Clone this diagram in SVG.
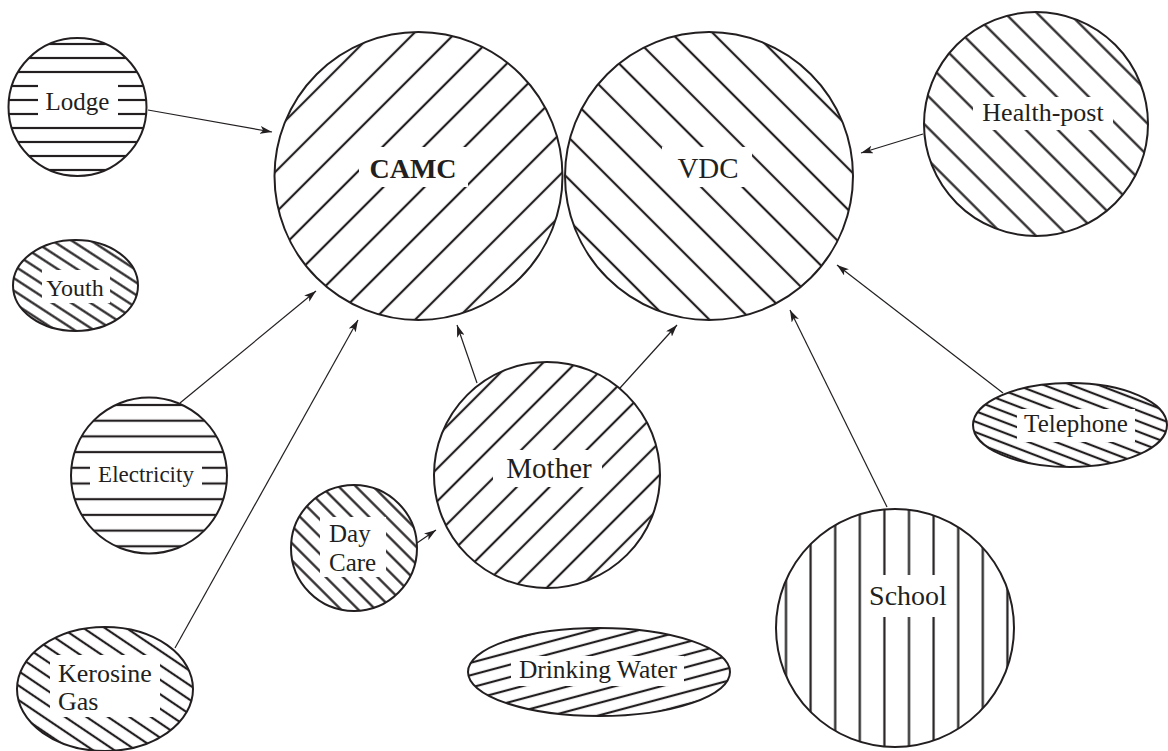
<svg xmlns="http://www.w3.org/2000/svg" width="1168" height="751" viewBox="0 0 1168 751">
<style>
.o{stroke:#231f20;stroke-width:2;}
.g{fill:#fff;}
.t{font-family:"Liberation Serif","Times New Roman",serif;fill:#231f20;}
.c{stroke:#231f20;stroke-width:1.2;fill:none;marker-end:url(#ah);}
</style>
<defs>
<marker id="ah" viewBox="0 0 12 8" refX="12" refY="4" markerWidth="12" markerHeight="8" markerUnits="userSpaceOnUse" orient="auto">
<path d="M0,0 L12,4 L0,8 L3,4 z" fill="#231f20"/>
</marker>
<pattern id="pLodge" patternUnits="userSpaceOnUse" x="0" y="9" width="20" height="14"><line x1="0" y1="7" x2="20" y2="7" stroke="#231f20" stroke-width="2.2"/></pattern>
<pattern id="pElec" patternUnits="userSpaceOnUse" x="0" y="397.15" width="20" height="15.7"><line x1="0" y1="7.85" x2="20" y2="7.85" stroke="#231f20" stroke-width="2.2"/></pattern>
<pattern id="pSchool" patternUnits="userSpaceOnUse" x="773.7" y="0" width="24.6" height="20"><line x1="12.3" y1="0" x2="12.3" y2="20" stroke="#231f20" stroke-width="2.2"/></pattern>
<pattern id="pCAMC" patternUnits="userSpaceOnUse" x="0" y="11.06" width="20" height="29.06" patternTransform="rotate(-45)"><line x1="0" y1="14.53" x2="20" y2="14.53" stroke="#231f20" stroke-width="2.2"/></pattern>
<pattern id="pVDC" patternUnits="userSpaceOnUse" x="0" y="2.75" width="20" height="29.3" patternTransform="rotate(45)"><line x1="0" y1="14.65" x2="20" y2="14.65" stroke="#231f20" stroke-width="2.2"/></pattern>
<pattern id="pHealth" patternUnits="userSpaceOnUse" x="0" y="10.5" width="20" height="22.6" patternTransform="rotate(45)"><line x1="0" y1="11.3" x2="20" y2="11.3" stroke="#231f20" stroke-width="2.2"/></pattern>
<pattern id="pMother" patternUnits="userSpaceOnUse" x="0" y="5.25" width="20" height="23.1" patternTransform="rotate(-45)"><line x1="0" y1="11.55" x2="20" y2="11.55" stroke="#231f20" stroke-width="2.2"/></pattern>
<pattern id="pDay" patternUnits="userSpaceOnUse" x="0" y="0.8" width="20" height="12.2" patternTransform="rotate(45)"><line x1="0" y1="6.1" x2="20" y2="6.1" stroke="#231f20" stroke-width="2.2"/></pattern>
<pattern id="pYouth" patternUnits="userSpaceOnUse" x="0" y="0" width="20" height="10.5" patternTransform="rotate(33)"><line x1="0" y1="5.25" x2="20" y2="5.25" stroke="#231f20" stroke-width="2.2"/></pattern>
<pattern id="pKero" patternUnits="userSpaceOnUse" x="0" y="0" width="20" height="12" patternTransform="rotate(34)"><line x1="0" y1="6" x2="20" y2="6" stroke="#231f20" stroke-width="2.2"/></pattern>
<pattern id="pTel" patternUnits="userSpaceOnUse" x="0" y="0" width="20" height="9.8" patternTransform="rotate(21)"><line x1="0" y1="4.9" x2="20" y2="4.9" stroke="#231f20" stroke-width="2.2"/></pattern>
<pattern id="pWater" patternUnits="userSpaceOnUse" x="0" y="0" width="20" height="12" patternTransform="rotate(-15)"><line x1="0" y1="6" x2="20" y2="6" stroke="#231f20" stroke-width="2.2"/></pattern>
</defs>
<rect width="1168" height="751" fill="#fff"/>

<g id="lodge">
<circle class="o" cx="77.5" cy="107" r="69" fill="url(#pLodge)"/>
<rect class="g" x="38" y="79" width="80" height="42"/>
<text class="t" x="77.5" y="110" font-size="25" text-anchor="middle">Lodge</text>
</g>

<g id="camc">
<circle class="o" cx="418.5" cy="176" r="144" fill="url(#pCAMC)"/>
<rect class="g" x="359" y="147" width="109" height="40"/>
<text class="t" x="413" y="178" font-size="28" font-weight="bold" text-anchor="middle">CAMC</text>
</g>

<g id="vdc">
<circle class="o" cx="709" cy="176" r="144" fill="url(#pVDC)"/>
<rect class="g" x="662" y="147" width="90" height="40"/>
<text class="t" x="708" y="178" font-size="29" text-anchor="middle">VDC</text>
</g>

<g id="health-post">
<circle class="o" cx="1036" cy="124" r="112" fill="url(#pHealth)"/>
<rect class="g" x="973" y="97" width="140" height="33"/>
<text class="t" x="1043" y="121" font-size="26" text-anchor="middle">Health-post</text>
</g>

<g id="youth">
<ellipse class="o" cx="75.5" cy="285.5" rx="62.5" ry="45.5" fill="url(#pYouth)"/>
<rect class="g" x="42" y="270" width="68" height="33"/>
<text class="t" x="75" y="295.5" font-size="24" text-anchor="middle">Youth</text>
</g>

<g id="electricity">
<circle class="o" cx="149" cy="475.5" r="78" fill="url(#pElec)"/>
<rect class="g" x="90" y="459" width="112" height="33"/>
<text class="t" x="146" y="481.5" font-size="23" text-anchor="middle">Electricity</text>
</g>

<g id="mother">
<circle class="o" cx="547" cy="475" r="113" fill="url(#pMother)"/>
<rect class="g" x="493" y="450" width="109" height="37"/>
<text class="t" x="549" y="478" font-size="29" text-anchor="middle">Mother</text>
</g>

<g id="day-care">
<circle class="o" cx="354" cy="548" r="63" fill="url(#pDay)"/>
<rect class="g" x="320" y="517" width="66" height="60"/>
<text class="t" x="329" y="541.5" font-size="25">Day</text>
<text class="t" x="329" y="570.5" font-size="25">Care</text>
</g>

<g id="telephone">
<ellipse class="o" cx="1070" cy="425" rx="97" ry="42" fill="url(#pTel)"/>
<rect class="g" x="1017" y="409" width="118" height="33"/>
<text class="t" x="1076" y="431.5" font-size="25" text-anchor="middle">Telephone</text>
</g>

<g id="school">
<circle class="o" cx="895" cy="628" r="119" fill="url(#pSchool)"/>
<rect class="g" x="864" y="575" width="88" height="42"/>
<text class="t" x="908" y="605" font-size="28" text-anchor="middle">School</text>
</g>

<g id="kerosine-gas">
<ellipse class="o" cx="105" cy="689" rx="88" ry="62" fill="url(#pKero)"/>
<rect class="g" x="50" y="655" width="110" height="62"/>
<text class="t" x="58" y="681.5" font-size="26">Kerosine</text>
<text class="t" x="58" y="710" font-size="26">Gas</text>
</g>

<g id="drinking-water">
<ellipse class="o" cx="599" cy="672" rx="131" ry="44" fill="url(#pWater)"/>
<rect class="g" x="511" y="656" width="173" height="30"/>
<text class="t" x="598" y="677.5" font-size="25.5" text-anchor="middle">Drinking Water</text>
</g>

<g id="connectors">
<line class="c" x1="148" y1="110" x2="272" y2="132"/>
<line class="c" x1="180" y1="403" x2="316" y2="291"/>
<line class="c" x1="175" y1="648" x2="358" y2="320"/>
<line class="c" x1="477" y1="383" x2="457" y2="325"/>
<line class="c" x1="620" y1="388" x2="677" y2="325"/>
<line class="c" x1="417" y1="543" x2="436" y2="530"/>
<line class="c" x1="887" y1="507" x2="790" y2="310"/>
<line class="c" x1="1003" y1="393" x2="837" y2="265"/>
<line class="c" x1="923" y1="134" x2="861" y2="153"/>
</g>
</svg>
